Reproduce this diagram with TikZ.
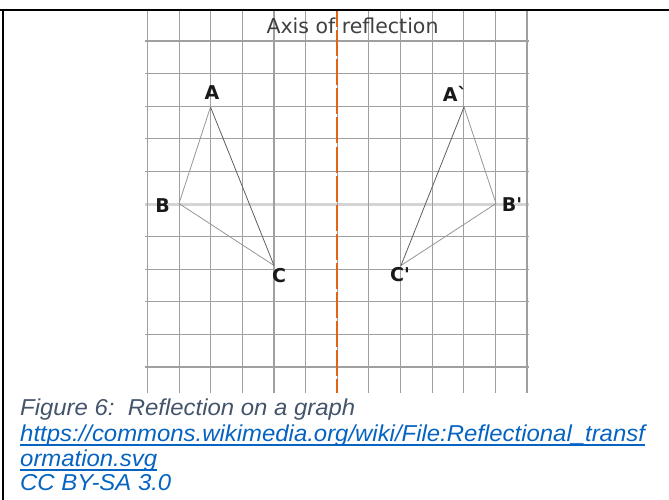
\documentclass[tikz,border=0pt]{standalone}
\usepackage{fontspec}
\usepackage{graphicx}
\newfontfamily\capfont{Liberation Sans}
\newfontfamily\lblfont{DejaVu Sans}
\definecolor{gridgray}{RGB}{160,160,160}
\definecolor{gridlight}{RGB}{212,212,212}
\definecolor{axisorange}{RGB}{228,100,22}
\definecolor{capgray}{RGB}{68,84,106}
\definecolor{linkblue}{RGB}{5,99,193}
\definecolor{edgedark}{RGB}{95,95,95}
\definecolor{edgelight}{RGB}{150,150,150}
\tikzset{
  gridline/.style={draw=gridgray, line width=1.2pt},
  gridlineB/.style={draw=gridlight, line width=3pt},
  axisline/.style={draw=axisorange, line width=2pt, dash pattern=on 26pt off 3pt, dash phase=10pt},
  edgeD/.style={draw=edgedark, line width=0.8pt},
  edgeL/.style={draw=edgelight, line width=0.8pt},
  vlabel/.style={inner sep=0pt, font=\lblfont\bfseries\fontsize{19}{19}\selectfont, text=black!90},
  axislabel/.style={inner sep=0pt, anchor=base, font=\lblfont\fontsize{20.5}{20.5}\selectfont, text=black!75},
  captext/.style={inner sep=0pt, anchor=base west, font=\capfont\itshape\fontsize{23}{25}\selectfont},
  border/.style={draw=black, line width=2pt},
  uline/.style={draw=linkblue, line width=1.3pt}
}
\begin{document}
\begin{tikzpicture}[x=1pt,y=-1pt]
\useasboundingbox (0,0) rectangle (669,500);
% grid
\draw[gridlineB] (145,204) -- (529,204);
\foreach \j in {0,1,2,3,4,6,7,8,9,10} {
  \draw[gridline] (145,{41+32.6*\j}) -- (529,{41+32.6*\j});
}
\foreach \i in {0,...,12} {
  \draw[gridline] ({147.5+31.625*\i},11.5) -- ({147.5+31.625*\i},393);
}
% axis
\coordinate (axtop) at (337,11.5);
\coordinate (axbot) at (337,393);
\draw[axisline] (axtop) -- (axbot);
\node[axislabel] (axlbl) at (352.5,34) {Axis of reflection};
% original triangle
\coordinate (A) at (210.5,107);
\coordinate (B) at (179,203.5);
\coordinate (C) at (274,265.5);
\draw[edgeL] (A) -- (B);
\draw[edgeL] (B) -- (C);
\draw[edgeD] (A) -- (C);
% reflected triangle
\coordinate (A2) at (464,107);
\coordinate (B2) at (496,203.5);
\coordinate (C2) at (401,265.5);
\draw[edgeL] (A2) -- (B2);
\draw[edgeL] (B2) -- (C2);
\draw[edgeD] (A2) -- (C2);
% vertex labels
\node[vlabel] (lA) at (212,93) {A};
\node[vlabel] (lB) at (162.5,205.5) {B};
\node[vlabel] (lC) at (279,276) {C};
\node[vlabel] (lA2) at (455,93.5) {A`};
\node[vlabel] (lB2) at (512,204.5) {B'};
\node[vlabel] (lC2) at (400,275) {C'};
% border
\draw[border] (0,10) -- (669,10);
\draw[border] (3,10) -- (3,500);
% caption
\node[captext, text=capgray] (cap1) at (20,415) {\scalebox{1.04}[1]{Figure 6:\ \ Reflection on a graph}};
\node[captext, text=linkblue] (cap2) at (20,441) {\scalebox{1.04}[1]{https://commons.wikimedia.org/wiki/File:Reflectional\_transf}};
\node[captext, text=linkblue] (cap3) at (20,466) {\scalebox{1.04}[1]{ormation.svg}};
\node[captext, text=linkblue] (cap4) at (20,490) {\scalebox{1.04}[1]{CC BY-SA 3.0}};
\draw[uline] ([yshift=-4pt]cap2.base west) -- ([yshift=-4pt]cap2.base east);
\draw[uline] ([yshift=-4pt]cap3.base west) -- ([yshift=-4pt]cap3.base east);
\end{tikzpicture}
\end{document}
